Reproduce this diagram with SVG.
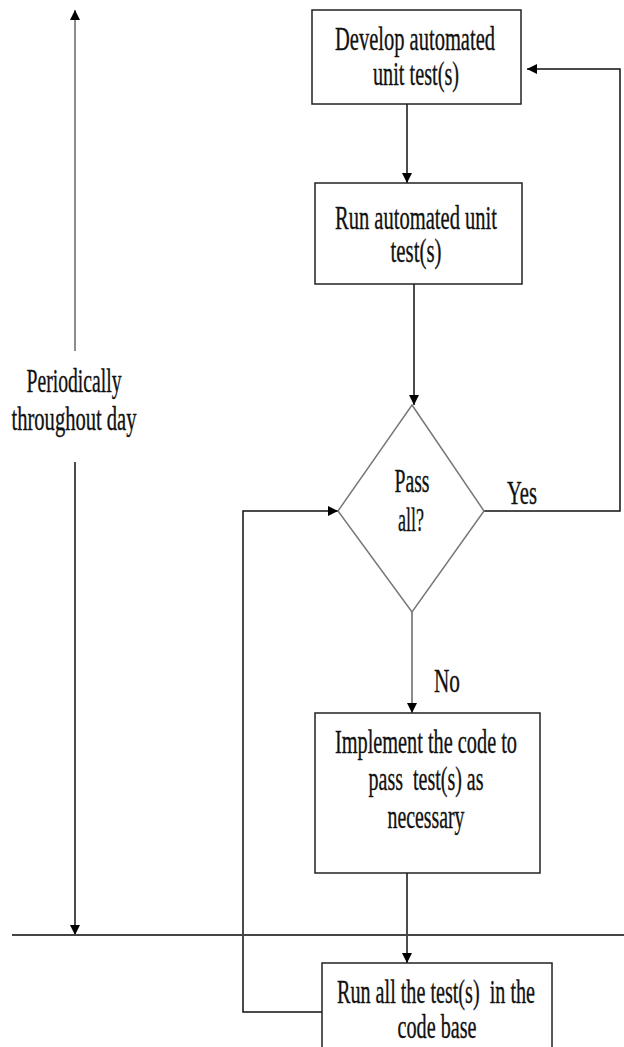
<svg xmlns="http://www.w3.org/2000/svg" width="624" height="1047" viewBox="0 0 624 1047">
<style>
.box{fill:#fff;stroke:#222;stroke-width:1.5}
.dia{fill:#fff;stroke:#777;stroke-width:1.5}
.c{fill:none;stroke:#111;stroke-width:1.5}
.g{fill:none;stroke:#666;stroke-width:1.5}
text{font-family:"Liberation Serif","Times New Roman",serif;font-size:33px;fill:#111;stroke:#111;stroke-width:0.35;text-anchor:middle}
</style>
<defs>
<marker id="ah" viewBox="0 0 10 10" refX="10" refY="5" markerWidth="10" markerHeight="10" markerUnits="userSpaceOnUse" orient="auto">
<path d="M0,0 L10,5 L0,10 Z" fill="#000"/>
</marker>
</defs>
<rect width="624" height="1047" fill="#fff"/>
<g id="connectors">
<line class="c" x1="407" y1="104" x2="407" y2="183" marker-end="url(#ah)"/>
<line class="c" x1="414" y1="284" x2="414" y2="405" marker-end="url(#ah)"/>
<polyline class="c" points="484,511 620,511 620,69 527,69" marker-end="url(#ah)"/>
<line class="g" x1="412" y1="612" x2="412" y2="713" marker-end="url(#ah)"/>
<line class="c" x1="407" y1="873" x2="407" y2="963" marker-end="url(#ah)"/>
<polyline class="c" points="322,1012 243,1012 243,511 338,511" marker-end="url(#ah)"/>
<line class="g" x1="75" y1="351" x2="75" y2="10" marker-end="url(#ah)"/>
<line class="c" x1="75" y1="462" x2="75" y2="935" marker-end="url(#ah)"/>
<line x1="12" y1="935" x2="624" y2="935" stroke="#444" stroke-width="2.2"/>
</g>
<g id="develop">
<rect class="box" x="312" y="10" width="209" height="94"/>
<text x="415" y="50" textLength="160" lengthAdjust="spacingAndGlyphs">Develop automated</text>
<text x="416" y="85" textLength="86" lengthAdjust="spacingAndGlyphs">unit test(s)</text>
</g>
<g id="run">
<rect class="box" x="315" y="183" width="207" height="101"/>
<text x="416" y="229" textLength="162" lengthAdjust="spacingAndGlyphs">Run automated unit</text>
<text x="416" y="262" textLength="51" lengthAdjust="spacingAndGlyphs">test(s)</text>
</g>
<g id="decision">
<polygon class="dia" points="412,405 484,511 412,612 338,511"/>
<text x="412" y="492" textLength="35" lengthAdjust="spacingAndGlyphs">Pass</text>
<text x="411" y="531" textLength="26" lengthAdjust="spacingAndGlyphs">all?</text>
</g>
<g id="label-yes"><text x="522" y="504" textLength="30" lengthAdjust="spacingAndGlyphs">Yes</text></g>
<g id="label-no"><text x="447" y="692" textLength="26" lengthAdjust="spacingAndGlyphs">No</text></g>
<g id="implement">
<rect class="box" x="315" y="713" width="225" height="160"/>
<text x="426" y="753" textLength="182" lengthAdjust="spacingAndGlyphs">Implement the code to</text>
<text x="426" y="790" textLength="115" lengthAdjust="spacingAndGlyphs" xml:space="preserve">pass  test(s) as</text>
<text x="426" y="828" textLength="77" lengthAdjust="spacingAndGlyphs">necessary</text>
</g>
<g id="runall">
<rect class="box" x="322" y="963" width="230" height="100"/>
<text x="436" y="1003" textLength="198" lengthAdjust="spacingAndGlyphs" xml:space="preserve">Run all the test(s)  in the</text>
<text x="437" y="1038" textLength="79" lengthAdjust="spacingAndGlyphs">code base</text>
</g>
<g id="periodic">
<text x="74" y="392" textLength="95" lengthAdjust="spacingAndGlyphs">Periodically</text>
<text x="74" y="430" textLength="125" lengthAdjust="spacingAndGlyphs">throughout day</text>
</g>
</svg>
